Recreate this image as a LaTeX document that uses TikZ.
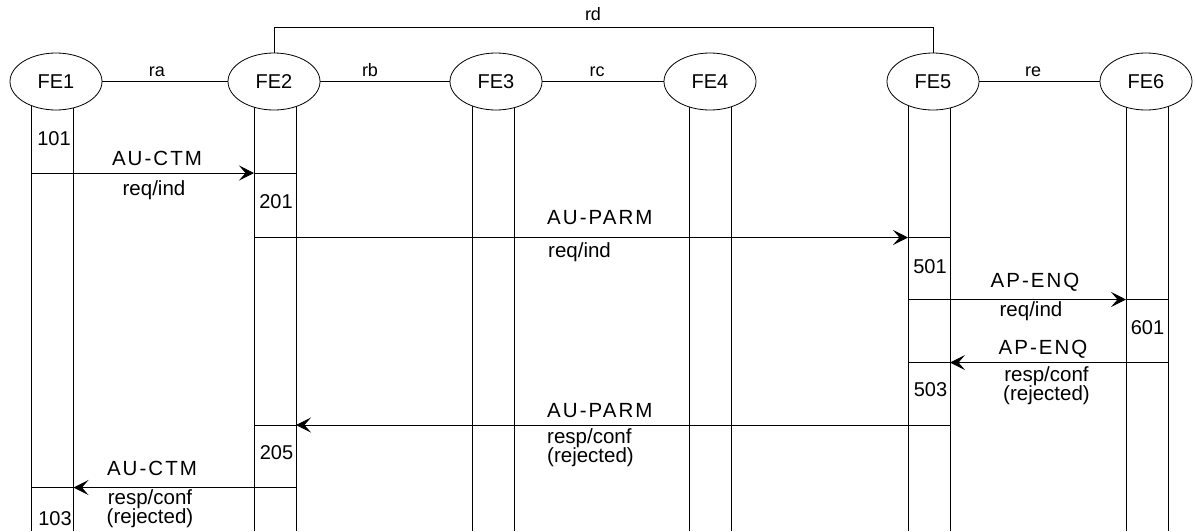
\documentclass[tikz,border=0pt]{standalone}
\usepackage{fontspec}
\setmainfont{Liberation Sans}
\newfontfamily\spacedfont[LetterSpace=10]{Liberation Sans}
\usetikzlibrary{shapes.geometric, arrows.meta, backgrounds}
\tikzset{
  sq/fe/.style={ellipse, draw, fill=white, line width=0.8pt,
    minimum width=92pt, minimum height=57pt, inner sep=0pt,
    font=\fontsize{20}{24}\selectfont},
  sq/life/.style={line width=0.8pt},
  sq/link/.style={line width=0.8pt},
  sq/bar/.style={line width=0.9pt},
  sq/msg/.style={-{Stealth[length=15pt,width=15pt,inset=6.5pt]},
    line width=0.8pt},
  sq/rlbl/.style={font=\fontsize{18}{20}\selectfont, anchor=base,
    inner sep=0pt},
  sq/name/.style={font=\spacedfont\fontsize{20.5}{24}\selectfont,
    anchor=base, inner sep=0pt},
  sq/txt/.style={font=\fontsize{20.5}{24}\selectfont, anchor=base,
    inner sep=0pt},
  sq/txt2/.style={font=\fontsize{20.5}{20.5}\selectfont,
    anchor=north, align=center, inner sep=0pt},
  sq/num/.style={font=\fontsize{20}{24}\selectfont, anchor=base,
    inner sep=0pt}
}

\begin{document}
\begin{tikzpicture}[x=1pt, y=-1pt]
  \useasboundingbox (0,0) rectangle (1195,531);

  % functional entities
  \node[sq/fe] (FE1) at (56,81.5)   {FE1};
  \node[sq/fe] (FE2) at (274,81.5)  {FE2};
  \node[sq/fe] (FE3) at (496,81.5)  {FE3};
  \node[sq/fe] (FE4) at (710,81.5)  {FE4};
  \node[sq/fe] (FE5) at (933,81.5)  {FE5};
  \node[sq/fe] (FE6) at (1146,81.5) {FE6};

  % relationships
  \draw[sq/link] (FE1) -- (FE2);
  \draw[sq/link] (FE2) -- (FE3);
  \draw[sq/link] (FE3) -- (FE4);
  \draw[sq/link] (FE5) -- (FE6);
  \coordinate (rdtop) at (593,27.3);
  \draw[sq/link] (FE2.north) |- (rdtop) -| (FE5.north);
  \node[sq/rlbl] (ra) at (157,76)   {ra};
  \node[sq/rlbl] (rb) at (370,76)   {rb};
  \node[sq/rlbl] (rc) at (597,76)   {rc};
  \node[sq/rlbl] (re) at (1033,76)  {re};
  \node[sq/rlbl] (rd) at (593,20.7) {rd};

  % lifelines
  \foreach \n/\x in {1/52.5, 2/275, 3/493, 4/710.5, 5/929, 6/1147} {
    \coordinate (L\n) at (\x-21,81.5);
    \coordinate (R\n) at (\x+21,81.5);
  }
  \begin{scope}[on background layer]
    \foreach \n in {1,...,6}
      \draw[sq/life] (L\n) -- ++(0,449.5) (R\n) -- ++(0,449.5);
  \end{scope}

  % message heights
  \coordinate (m1) at (0,173);
  \coordinate (m2) at (0,237.5);
  \coordinate (m3) at (0,299.5);
  \coordinate (m4) at (0,362.5);
  \coordinate (m5) at (0,425);
  \coordinate (m6) at (0,487.5);

  % AU-CTM req/ind
  \draw[sq/bar] (L1 |- m1) -- (R1 |- m1) (L2 |- m1) -- (R2 |- m1);
  \draw[sq/msg] (R1 |- m1) -- (L2 |- m1);
  \node[sq/num]  (n101) at (54,145.7)  {101};
  \node[sq/name] (t1a)  at (157,165.7) {AU-CTM};
  \node[sq/txt]  (t1b)  at (154,195)   {req/ind};
  \node[sq/num]  (n201) at (276,208.3) {201};

  % AU-PARM req/ind
  \draw[sq/bar] (L2 |- m2) -- (R2 |- m2) (L5 |- m2) -- (R5 |- m2);
  \draw[sq/msg] (R2 |- m2) -- (L5 |- m2);
  \node[sq/name, anchor=base west] (t2a) at (547,224) {AU-PARM};
  \node[sq/txt, anchor=base west]  (t2b) at (548,257) {req/ind};
  \node[sq/num]  (n501) at (930,273) {501};

  % AP-ENQ req/ind
  \draw[sq/bar] (L5 |- m3) -- (R5 |- m3) (L6 |- m3) -- (R6 |- m3);
  \draw[sq/msg] (R5 |- m3) -- (L6 |- m3);
  \node[sq/name] (t3a)  at (1035,287)   {AP-ENQ};
  \node[sq/txt]  (t3b)  at (1031,316)   {req/ind};
  \node[sq/num]  (n601) at (1147.5,334) {601};

  % AP-ENQ resp/conf
  \draw[sq/bar] (L6 |- m4) -- (R6 |- m4) (L5 |- m4) -- (R5 |- m4);
  \draw[sq/msg] (L6 |- m4) -- (R5 |- m4);
  \node[sq/name] (t4a)  at (1043,354)    {AP-ENQ};
  \node[sq/txt2] (t4b)  at (1046.5,366)  {resp/conf\\[-1pt](rejected)};
  \node[sq/num]  (n503) at (930.5,396.7) {503};

  % AU-PARM resp/conf
  \draw[sq/bar] (L5 |- m5) -- (R5 |- m5) (L2 |- m5) -- (R2 |- m5);
  \draw[sq/msg] (L5 |- m5) -- (R2 |- m5);
  \node[sq/name, anchor=base west] (t5a) at (547,417) {AU-PARM};
  \node[sq/txt2, anchor=north west, align=left] (t5b) at (547,428.3)
    {resp/conf\\[-1pt](rejected)};
  \node[sq/num]  (n205) at (276.5,459.3) {205};

  % AU-CTM resp/conf
  \draw[sq/bar] (L2 |- m6) -- (R2 |- m6) (L1 |- m6) -- (R1 |- m6);
  \draw[sq/msg] (L2 |- m6) -- (R1 |- m6);
  \node[sq/name] (t6a)  at (152,475)  {AU-CTM};
  \node[sq/txt2] (t6b)  at (150,489)  {resp/conf\\[-1pt](rejected)};
  \node[sq/num]  (n103) at (55,525.7) {103};
\end{tikzpicture}
\end{document}
